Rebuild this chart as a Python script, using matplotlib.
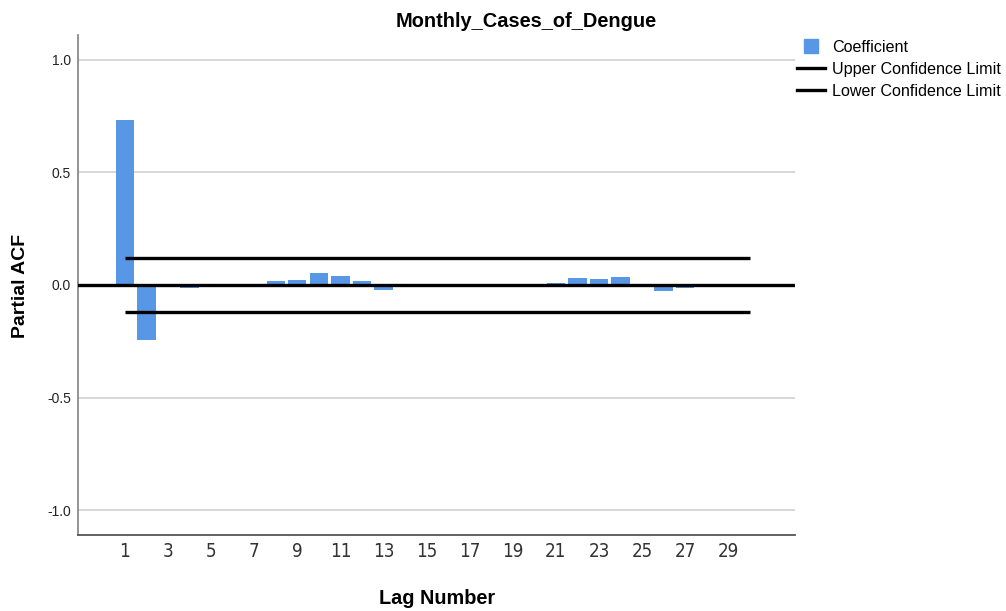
import matplotlib
matplotlib.use("Agg")
import matplotlib.pyplot as plt
from matplotlib.lines import Line2D

lags = list(range(1, 31))
pacf = [0.732, -0.242, -0.008, -0.015, 0.005, -0.002, 0.002, 0.019, 0.020, 0.054,
        0.038, 0.016, -0.023, 0.001, -0.001, 0.002, -0.008, -0.008, 0.001, -0.002,
        0.010, 0.032, 0.026, 0.036, 0.002, -0.025, -0.012, 0.001, -0.002, -0.006]
upper_limit = [0.121] * len(lags)
lower_limit = [-0.121] * len(lags)
y_ticks = [-1.0, -0.5, 0.0, 0.5, 1.0]
x_ticks = list(range(1, 30, 2))

plt.rcParams["font.family"] = ["Liberation Sans", "DejaVu Sans"]

bar_color = "#5897E6"

fig = plt.figure(figsize=(10.06, 6.11), dpi=100)
ax = fig.add_axes([78 / 1006, 1 - 535 / 611, (795 - 78) / 1006, (535 - 35) / 611])

ax.bar(lags, pacf, width=0.85, color=bar_color, zorder=2)
ax.axhline(0, color="black", lw=2.4, zorder=3)
ax.plot(lags, upper_limit, color="black", lw=2.4, solid_capstyle="butt", zorder=3)
ax.plot(lags, lower_limit, color="black", lw=2.4, solid_capstyle="butt", zorder=3)

ax.set_xlim(-1.18, 32.1)
ax.set_ylim(-1.11, 1.11)
ax.set_yticks(y_ticks)
ax.set_yticklabels([f"{v:.1f}" for v in y_ticks])
ax.set_xticks(x_ticks)
ax.set_xticklabels([str(v) for v in x_ticks], fontfamily="DejaVu Sans", fontstretch="condensed",
                   fontweight="light", fontsize=13.5, color="#333333")
ax.tick_params(axis="x", length=0, pad=5)
ax.tick_params(axis="y", length=0, pad=5, labelsize=10, labelcolor="#222222")
ax.yaxis.grid(True, color="#d4d4d4", lw=1.3, zorder=0)
ax.set_axisbelow(True)

for side in ("top", "right"):
    ax.spines[side].set_visible(False)
ax.spines["left"].set_color("#8a8a8a")
ax.spines["left"].set_linewidth(1.3)
ax.spines["bottom"].set_color("#555555")
ax.spines["bottom"].set_linewidth(1.3)

fig.text(526 / 1006, 1 - 26.7 / 611, "Monthly_Cases_of_Dengue", ha="center", va="baseline",
         fontsize=14.4, fontweight="bold")
fig.text(437 / 1006, 1 - 604 / 611, "Lag Number", ha="center", va="baseline",
         fontsize=14.3, fontweight="bold")
fig.text(21 / 1006, 1 - 286 / 611, "Partial ACF", ha="center", va="center", rotation=90,
         fontsize=14, fontweight="bold")

handles = [
    Line2D([], [], marker="s", color=bar_color, linestyle="none", markersize=10.5),
    Line2D([], [], color="black", lw=2.4),
    Line2D([], [], color="black", lw=2.4),
]
fig.legend(handles, ["Coefficient", "Upper Confidence Limit", "Lower Confidence Limit"],
           loc="upper left", bbox_to_anchor=(797 / 1006, 1 - 40 / 611), frameon=False,
           fontsize=11.6, borderpad=0, borderaxespad=0, handlelength=1.75, handletextpad=0.45,
           labelspacing=0.42)

fig.savefig("out.png", dpi=100)
